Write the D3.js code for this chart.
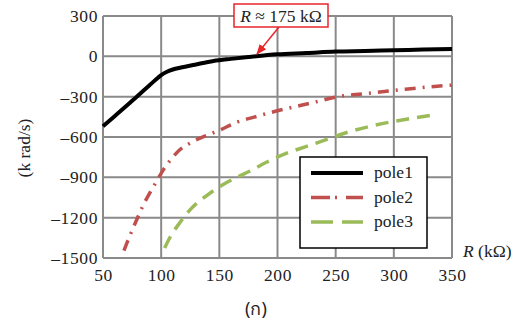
<!DOCTYPE html>
<html>
<head>
<meta charset="utf-8">
<script src="https://cdn.jsdelivr.net/npm/d3@7"></script>
<style>
  body { margin: 0; background: #fff; }
  svg text { font-family: "Liberation Serif", "DejaVu Serif", serif; fill: #222; }
</style>
</head>
<body>
<script>
// data: [R (kOhm), pole (k rad/s)]
var pole1 = [[50,-520],[60,-445],[70,-370],[79,-300],[90,-215],[95,-176],[100,-140],[105,-115],[110,-98],[117,-83],[129,-62],[145,-35],[160,-19],[175,-5],[200,15],[225,25],[250,36],[275,40],[300,45],[325,50],[350,55]];
var pole2 = [[68,-1445],[70,-1400],[75,-1295],[80,-1195],[85,-1100],[90,-1020],[95,-945],[100,-870],[105,-805],[110,-750],[116,-695],[125,-645],[133,-610],[142,-578],[150,-550],[165,-491],[180,-452],[199,-407],[215,-375],[230,-345],[252,-300],[270,-282],[288,-266],[310,-245],[330,-228],[350,-214]];
var pole3 = [[103,-1425],[108,-1340],[115,-1250],[125,-1140],[140,-1030],[153,-955],[165,-900],[176,-855],[190,-790],[208,-720],[225,-670],[240,-625],[262,-560],[280,-520],[296,-490],[315,-462],[337,-432]];
var xTicks = [50, 100, 150, 200, 250, 300, 350];
var yTicks = [300, 0, -300, -600, -900, -1200, -1500];
var seriesNames = ["pole1", "pole2", "pole3"];

var width = 524, height = 326;
var margin = { top: 16, right: 72, bottom: 68, left: 103 };
var serif = "'Liberation Serif', 'DejaVu Serif', serif";

var svg = d3.select("body").append("svg")
    .attr("width", width)
    .attr("height", height);

var xScale = d3.scaleLinear().domain([50, 350]).range([margin.left, width - margin.right]);
var yScale = d3.scaleLinear().domain([-1500, 300]).range([height - margin.bottom, margin.top]);

var gridColor = "#8a8a8a";

// grid lines
svg.append("g").selectAll("line").data(xTicks).enter().append("line")
    .attr("x1", d => xScale(d)).attr("x2", d => xScale(d))
    .attr("y1", yScale(300)).attr("y2", yScale(-1500))
    .attr("stroke", gridColor).attr("stroke-width", 2);
svg.append("g").selectAll("line").data(yTicks).enter().append("line")
    .attr("x1", xScale(50)).attr("x2", xScale(350))
    .attr("y1", d => yScale(d)).attr("y2", d => yScale(d))
    .attr("stroke", gridColor).attr("stroke-width", 2);

// axes (labels only, the grid draws the lines)
var xAxis = d3.axisBottom(xScale).tickValues(xTicks).tickSize(0).tickPadding(10);
svg.append("g")
    .attr("transform", "translate(0," + yScale(-1500) + ")")
    .call(xAxis)
    .call(g => g.select(".domain").remove())
    .call(g => g.selectAll("text").style("font-size", "17.5px").style("fill", "#222")
        .style("letter-spacing", "0.6px")
        .style("font-family", serif).attr("dy", "0.72em"));

var yAxis = d3.axisLeft(yScale).tickValues(yTicks).tickSize(0).tickPadding(5)
    .tickFormat(d => d < 0 ? "\u2013" + Math.abs(d) : d);
svg.append("g")
    .attr("transform", "translate(" + xScale(50) + ",0)")
    .call(yAxis)
    .call(g => g.select(".domain").remove())
    .call(g => g.selectAll("text").style("font-size", "17.5px").style("fill", "#222")
        .style("letter-spacing", "0.6px")
        .style("font-family", serif));

// axis titles
svg.append("text")
    .attr("transform", "translate(30,148) rotate(-90)")
    .attr("text-anchor", "middle")
    .style("font-size", "17.5px")
    .style("font-family", serif)
    .text("(k rad/s)");

var xt = svg.append("text")
    .attr("x", 463).attr("y", 257)
    .style("font-size", "17.5px")
    .style("font-family", serif);
xt.append("tspan").attr("font-style", "italic").text("R");
xt.append("tspan").text(" (k\u03A9)");

// series lines
var line = d3.line()
    .x(d => xScale(d[0]))
    .y(d => yScale(d[1]))
    .curve(d3.curveMonotoneX);

var styles = [
    { color: "#000000", dash: null, legendDash: null, w: 4 },
    { color: "#c0504d", dash: "11,7,2,7", legendDash: "19,5,2,9", w: 3.5 },
    { color: "#9bbb59", dash: "13,8", legendDash: "22,9", w: 3.5 }
];

[pole1, pole2, pole3].forEach(function (data, i) {
    svg.append("path")
        .datum(data)
        .attr("d", line)
        .attr("fill", "none")
        .attr("stroke", styles[i].color)
        .attr("stroke-width", styles[i].w)
        .attr("stroke-dasharray", styles[i].dash);
});

// annotation
svg.append("defs").append("marker")
    .attr("id", "arrow")
    .attr("viewBox", "0 0 10 10")
    .attr("refX", 9).attr("refY", 5)
    .attr("markerWidth", 7).attr("markerHeight", 7)
    .attr("orient", "auto")
    .append("path")
    .attr("d", "M0,1 L10,5 L0,9 Z")
    .attr("fill", "#e8262b");

svg.append("line")
    .attr("x1", 279).attr("y1", 27)
    .attr("x2", 257).attr("y2", 54)
    .attr("stroke", "#e8262b").attr("stroke-width", 1.5)
    .attr("marker-end", "url(#arrow)");

svg.append("rect")
    .attr("x", 234).attr("y", 4)
    .attr("width", 94).attr("height", 23)
    .attr("fill", "#fff")
    .attr("stroke", "#e8262b").attr("stroke-width", 1.5);

var at = svg.append("text")
    .attr("x", 281).attr("y", 22)
    .attr("text-anchor", "middle")
    .style("font-size", "17.5px")
    .style("font-family", serif);
at.append("tspan").attr("font-style", "italic").text("R");
at.append("tspan").text(" \u2248 175 k\u03A9");

// legend
var legend = svg.append("g");
legend.append("rect")
    .attr("x", 300).attr("y", 157)
    .attr("width", 127).attr("height", 91)
    .attr("fill", "#fff")
    .attr("stroke", "#000").attr("stroke-width", 1.5);

seriesNames.forEach(function (name, i) {
    var y = 173 + i * 24.5;
    legend.append("line")
        .attr("x1", 311).attr("x2", 363)
        .attr("y1", y).attr("y2", y)
        .attr("stroke", styles[i].color)
        .attr("stroke-width", styles[i].w)
        .attr("stroke-dasharray", styles[i].legendDash);
    legend.append("text")
        .attr("x", 374).attr("y", y + 5)
        .style("font-size", "17.5px")
        .style("font-family", serif)
        .text(name);
});

// caption
svg.append("text")
    .attr("x", 256).attr("y", 315)
    .attr("text-anchor", "middle")
    .style("font-size", "18px")
    .style("font-family", "'Noto Sans', 'DejaVu Sans', sans-serif")
    .text("(\u0E01)");
</script>
</body>
</html>
